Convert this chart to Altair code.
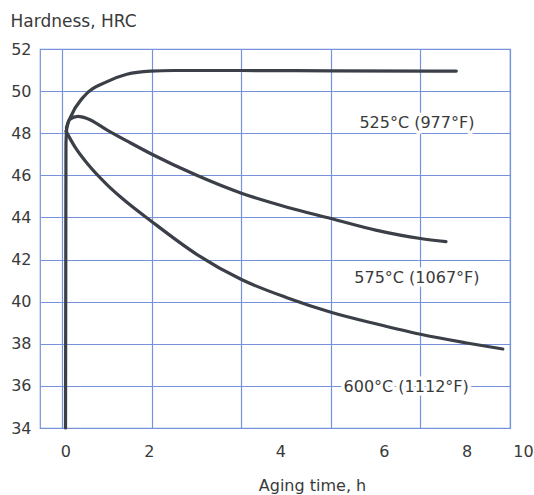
import altair as alt
import pandas as pd

# ---- data ----
t525 = [0.07, 0.08, 0.10, 0.19, 0.46, 1.0, 1.44, 1.96, 2.5, 4.0, 6.0, 8.8]
h525 = [34.0, 47.5, 48.25, 48.8, 49.7, 50.45, 50.8, 50.95, 50.98, 50.98, 50.96, 50.95]

t575 = [0.09, 0.16, 0.35, 0.55, 1.0, 1.47, 2.0, 3.0, 4.0, 5.0, 6.0, 7.0, 8.0, 8.57]
h575 = [48.25, 48.65, 48.8, 48.7, 48.15, 47.6, 47.0, 46.0, 45.15, 44.5, 43.95, 43.4, 43.0, 42.85]

t600 = [0.08, 0.28, 0.58, 1.0, 1.34, 2.0, 3.0, 4.0, 5.0, 6.0, 7.0, 8.0, 9.0, 9.84]
h600 = [48.1, 47.35, 46.5, 45.55, 44.9, 43.8, 42.25, 41.05, 40.2, 39.5, 38.95, 38.45, 38.05, 37.75]

series_names = ["525", "575", "600"]

label_text = ["525°C (977°F)", "575°C (1067°F)", "600°C (1112°F)"]
label_x = [7.92, 7.92, 7.68]
label_y = [48.49, 41.13, 35.95]

x_ticks = [0, 2, 4, 6, 8, 10]
y_ticks = [34, 36, 38, 40, 42, 44, 46, 48, 50, 52]

# ---- tables ----
rows = []
for name, ts, hs in zip(series_names, [t525, t575, t600], [h525, h575, h600]):
    for i, (t, h) in enumerate(zip(ts, hs)):
        rows.append({"series": name, "order": i, "time": t, "hrc": h})
df = pd.DataFrame(rows)
lab = pd.DataFrame({"text": label_text, "time": label_x, "hrc": label_y})

FONT = "DejaVu Sans"
TEXT = "#3a3a3a"
GRID = "#7592da"
LINE = "#3b3f47"

xscale = alt.Scale(domain=[-0.5, 10], nice=False, zero=False)
yscale = alt.Scale(domain=[34, 52], nice=False, zero=False)

x_axis = alt.Axis(
    values=x_ticks, title="Aging time, h", grid=True, gridColor=GRID, gridWidth=1.2,
    domain=False, ticks=False, tickSize=0, labelPadding=15,
    labelOffset=alt.ExprRef(expr="datum.value == 0 ? 3 : datum.value == 2 ? -3 : datum.value == 4 ? 39 : datum.value == 6 ? 53 : datum.value == 8 ? 46 : 13"),
    labelFlush=False, labelOverlap=False, labelBound=False,
    labelFont=FONT, labelFontSize=16, labelColor=TEXT,
    titleFont=FONT, titleFontSize=16, titleFontWeight="normal", titleColor=TEXT,
    titleX=272, titleY=62, titleAlign="center", titleBaseline="alphabetic",
)
y_axis = alt.Axis(
    values=y_ticks, title="Hardness, HRC", grid=True, gridColor=GRID, gridWidth=1.2,
    domain=False, ticks=False, tickSize=0, labelPadding=9,
    labelFlush=False, labelOverlap=False, labelBound=False,
    labelFont=FONT, labelFontSize=16, labelColor=TEXT, labelBaseline="middle",
    titleFont=FONT, titleFontSize=17, titleFontWeight="normal", titleColor=TEXT,
    titleAngle=0, titleX=-30, titleY=-23, titleAlign="left", titleBaseline="alphabetic",
)

lines = alt.Chart(df).mark_line(
    color=LINE, strokeWidth=3.2, interpolate="monotone", strokeCap="round", strokeJoin="round"
).encode(
    x=alt.X("time:Q", scale=xscale, axis=x_axis),
    y=alt.Y("hrc:Q", scale=yscale, axis=y_axis),
    detail="series:N",
    order="order:Q",
)

halo = alt.Chart(lab).mark_text(
    font=FONT, fontSize=16, color="white", stroke="white", strokeWidth=7,
    strokeJoin="round", align="center", baseline="middle",
).encode(x=alt.X("time:Q", scale=xscale), y=alt.Y("hrc:Q", scale=yscale), text="text:N")

texts = alt.Chart(lab).mark_text(
    font=FONT, fontSize=16, color=TEXT, align="center", baseline="middle",
).encode(x=alt.X("time:Q", scale=xscale), y=alt.Y("hrc:Q", scale=yscale), text="text:N")

chart = alt.layer(lines, halo, texts).properties(
    width=470, height=379,
    autosize=alt.AutoSizeParams(type="none"),
    padding={"left": 40, "top": 49, "right": 24, "bottom": 67},
    background="white",
).configure_view(stroke=GRID, strokeWidth=1.2)

chart.save("out.html", embed_options={"renderer": "svg", "actions": False})
